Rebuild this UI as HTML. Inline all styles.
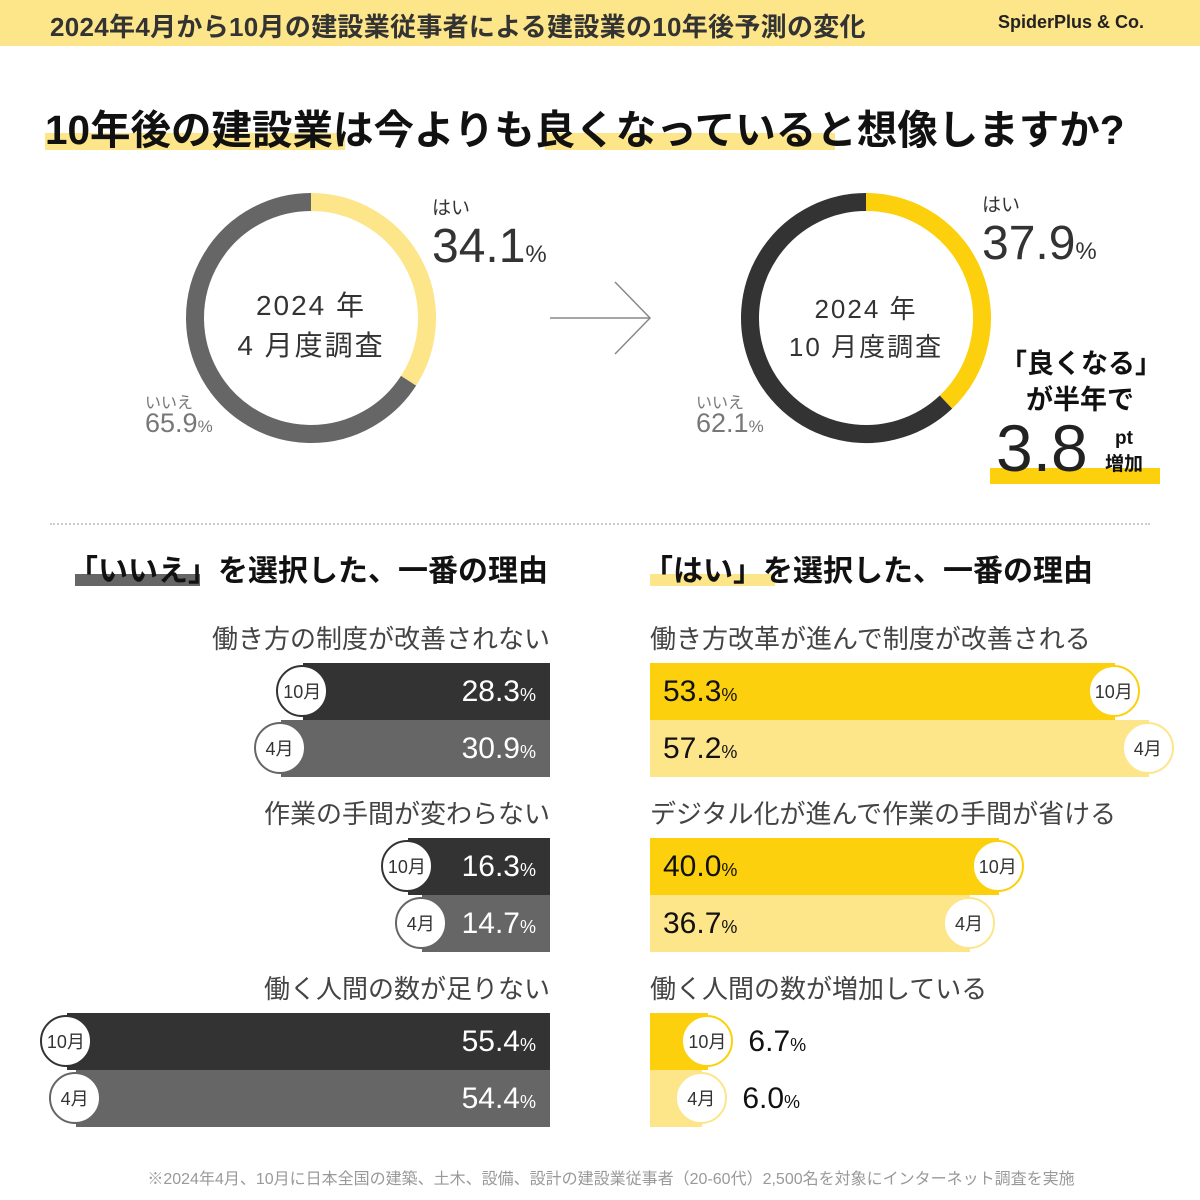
<!DOCTYPE html>
<html><head><meta charset="utf-8">
<style>
body{margin:0;width:1200px;height:1200px;background:#fff;position:relative;overflow:hidden;font-family:"Liberation Sans","Noto Sans CJK JP",sans-serif;color:#333}
.a{position:absolute;white-space:nowrap}
.circ{position:absolute;width:52px;height:52px;border-radius:50%;background:#fff;box-sizing:border-box;font-size:18px;display:flex;align-items:center;justify-content:center;color:#333}
.bar{position:absolute;height:57px}
.val{position:absolute;font-size:30px;line-height:57px;font-weight:500}
.val small{font-size:18px}
</style></head><body>
<div class="a" style="left:0;top:0;width:1200px;height:46px;background:#fde58a"></div>
<div class="a" style="left:50px;top:7px;font-size:26px;font-weight:bold;color:#333;letter-spacing:0.3px">2024年4月から10月の建設業従事者による建設業の10年後予測の変化</div>
<div class="a" style="left:998px;top:12px;font-size:18px;font-weight:bold;color:#222">SpiderPlus &amp; Co.</div>

<div class="a" style="left:45px;top:133px;width:300px;height:17px;background:#fde58a"></div>
<div class="a" style="left:545px;top:133px;width:290px;height:17px;background:#fde58a"></div>
<div class="a" style="left:45px;top:97px;font-size:40.5px;font-weight:bold;color:#111">10年後の建設業は今よりも良くなっていると想像しますか?</div>

<svg class="a" style="left:0;top:0" width="1200" height="520" id="donuts"></svg>
<div class="a" style="left:236px;top:286px;width:150px;text-align:center;font-size:28px;line-height:40px;letter-spacing:2px">2024 年<br>4 月度調査</div>
<div class="a" style="left:781px;top:290px;width:170px;text-align:center;font-size:26px;line-height:38px;letter-spacing:2px">2024 年<br>10 月度調査</div>
<div class="a" style="left:432px;top:193px;font-size:19px">はい</div>
<div class="a" style="left:432px;top:219px;font-size:48px">34.1<span style="font-size:24px">%</span></div>
<div class="a" style="left:145px;top:389px;font-size:16px;color:#777">いいえ</div>
<div class="a" style="left:145px;top:408px;font-size:27px;color:#777">65.9<span style="font-size:17px">%</span></div>
<div class="a" style="left:982px;top:190px;font-size:19px">はい</div>
<div class="a" style="left:982px;top:216px;font-size:48px">37.9<span style="font-size:24px">%</span></div>
<div class="a" style="left:696px;top:389px;font-size:16px;color:#777">いいえ</div>
<div class="a" style="left:696px;top:408px;font-size:27px;color:#777">62.1<span style="font-size:17px">%</span></div>
<div class="a" style="left:1000px;top:346px;width:160px;text-align:center;font-size:27px;font-weight:bold;color:#111;line-height:36px">「良くなる」<br>が半年で</div>
<div class="a" style="left:990px;top:468px;width:170px;height:16px;background:#fcd00c"></div>
<div class="a" style="left:996px;top:410px;font-size:66px;color:#222">3.8</div>
<div class="a" style="left:1105px;top:426px;font-size:19px;font-weight:bold;color:#111;line-height:26px;text-align:center">pt<br>増加</div>

<div class="a" style="left:50px;top:523px;width:1100px;border-top:2px dotted #ccc"></div>

<div class="a" style="left:75px;top:574px;width:125px;height:12px;background:#666"></div>
<div class="a" style="left:68px;top:546px;font-size:30px;font-weight:bold;color:#111">「いいえ」を選択した、一番の理由</div>
<div class="a" style="left:650px;top:574px;width:125px;height:12px;background:#fde58a"></div>
<div class="a" style="left:643px;top:546px;font-size:30px;font-weight:bold;color:#111">「はい」を選択した、一番の理由</div>

<div id="bars"></div>
<div class="a" style="left:0;width:1222px;text-align:center;top:1165px;font-size:16px;color:#999">※2024年4月、10月に日本全国の建築、土木、設備、設計の建設業従事者（20-60代）2,500名を対象にインターネット調査を実施</div>

<script>
const donutYes = [34.1, 37.9];
const donutColors = [["#fde58a","#666666"],["#fcd00c","#333333"]];
const noReasons = ["働き方の制度が改善されない","作業の手間が変わらない","働く人間の数が足りない"];
const noOct = [28.3, 16.3, 55.4];
const noApr = [30.9, 14.7, 54.4];
const yesReasons = ["働き方改革が進んで制度が改善される","デジタル化が進んで作業の手間が省ける","働く人間の数が増加している"];
const yesOct = [53.3, 40.0, 6.7];
const yesApr = [57.2, 36.7, 6.0];

const svg=document.getElementById('donuts');const NS='http://www.w3.org/2000/svg';
const centers=[[311,318],[866,318]];
function arc(cx,cy,r,a0,a1){const p=a=>[cx+r*Math.sin(a*2*Math.PI),cy-r*Math.cos(a*2*Math.PI)];const [x0,y0]=p(a0),[x1,y1]=p(a1);return `M${x0} ${y0} A${r} ${r} 0 ${a1-a0>0.5?1:0} 1 ${x1} ${y1}`;}
donutYes.forEach((v,i)=>{const [cx,cy]=centers[i];const f=v/100;
 [[0,f,donutColors[i][0],'yes'],[f,1,donutColors[i][1],'no']].forEach(s=>{const p=document.createElementNS(NS,'path');
 p.setAttribute('d',arc(cx,cy,116,s[0],s[1]));p.setAttribute('fill','none');p.setAttribute('stroke',s[2]);p.setAttribute('stroke-width','18');
 
 
 svg.appendChild(p);});});
const ar=document.createElementNS(NS,'path');ar.setAttribute('d','M550 318 H650 M615 282 L650 318 L615 354');ar.setAttribute('fill','none');ar.setAttribute('stroke','#888');ar.setAttribute('stroke-width','1.5');


svg.appendChild(ar);

const root=document.getElementById('bars');const S=8.72;
const rowTops=[663,838,1013];
function mk(cls,st,html){const d=document.createElement('div');d.className=cls;d.style.cssText=st;if(html!==undefined)d.innerHTML=html;root.appendChild(d);return d;}
for(let k=0;k<3;k++){
 const t=rowTops[k];
 const l=mk('a',`right:650px;top:${t-44}px;font-size:26px;color:#444`,noReasons[k]);
 
 
 const r=mk('a',`left:650px;top:${t-44}px;font-size:26px;color:#444`,yesReasons[k]);
 
 
 [[noOct[k],'#333','10月',0],[noApr[k],'#666','4月',57]].forEach(s=>{
  const len=s[0]*S;const y=t+s[3];
  const b=mk('bar',`left:${550-len}px;top:${y}px;width:${len}px;background:${s[1]}`);
  
  
  const c=mk('circ',`left:${550-len-27}px;top:${y+2}px;border:2px solid ${s[1]}`,s[2]);
  
  
  const v=mk('val',`right:664px;top:${y}px;color:#fff`,s[0].toFixed(1)+'<small>%</small>');
  
  
 });
 [[yesOct[k],'#fcd00c','10月',0],[yesApr[k],'#fde58a','4月',57]].forEach(s=>{
  const len=s[0]*S;const y=t+s[3];
  const b=mk('bar',`left:650px;top:${y}px;width:${len}px;background:${s[1]}`);
  
  
  const c=mk('circ',`left:${650+len-27}px;top:${y+2}px;border:2px solid ${s[1]}`,s[2]);
  
  
  const inside=len>150;
  const v=mk('val',`left:${inside?663:650+len+40}px;top:${y}px;color:#111`,s[0].toFixed(1)+'<small>%</small>');
  
  
 });
}
</script>
</body></html>
